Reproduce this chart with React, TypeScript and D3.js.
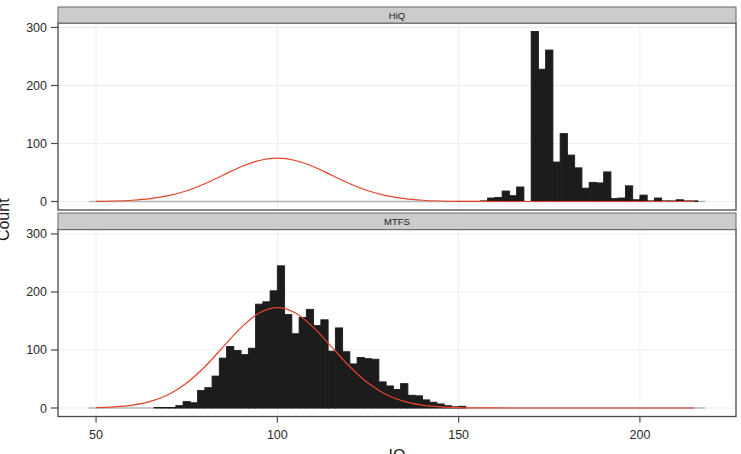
import React from 'react';
import * as d3 from 'd3';

const W = 741;
const H = 454;

const xTicks = [50, 100, 150, 200];
const yTicks = [0, 100, 200, 300];
const panelNames = ['HiQ', 'MTFS'];
const xLabel = 'IQ';
const yLabel = 'Count';

const binWidth = 2;
const dataRange = [48, 218];

const hiqBinStarts = [156, 158, 160, 162, 164, 166, 170, 172, 174, 176, 178, 180, 182, 184, 186, 188, 190, 192, 194, 196, 198, 200, 202, 204, 206, 208, 210, 212, 214];
const hiqCounts = [1, 6, 7, 18, 10, 25, 293, 228, 261, 68, 117, 80, 58, 23, 33, 32, 51, 5, 6, 27, 3, 11, 1, 6, 1, 1, 3, 1, 1];

const mtfsBinStarts = [66, 68, 70, 72, 74, 76, 78, 80, 82, 84, 86, 88, 90, 92, 94, 96, 98, 100, 102, 104, 106, 108, 110, 112, 114, 116, 118, 120, 122, 124, 126, 128, 130, 132, 134, 136, 138, 140, 142, 144, 146, 148, 150];
const mtfsCounts = [1, 1, 1, 4, 11, 9, 30, 35, 55, 86, 106, 99, 92, 103, 179, 183, 202, 245, 161, 128, 156, 170, 142, 152, 98, 138, 97, 76, 87, 85, 84, 45, 38, 32, 42, 22, 21, 14, 10, 7, 4, 2, 3];

const curveX = [50, 55, 60, 65, 70, 75, 80, 85, 90, 95, 100, 105, 110, 115, 120, 125, 130, 135, 140, 145, 150, 155, 160, 165, 170, 175, 180, 185, 190, 195, 200, 205, 210, 215];
const hiqCurve = [0.29, 0.83, 2.13, 4.9, 10.1, 18.6, 30.7, 45.3, 59.8, 70.6, 74.6, 70.6, 59.8, 45.3, 30.7, 18.6, 10.1, 4.9, 2.13, 0.83, 0.29, 0.09, 0.03, 0, 0, 0, 0, 0, 0, 0, 0, 0, 0, 0];
const mtfsCurve = [0.67, 1.92, 4.95, 11.4, 23.4, 43.1, 71.1, 105, 138.6, 163.7, 173, 163.7, 138.6, 105, 71.1, 43.1, 23.4, 11.4, 4.95, 1.92, 0.67, 0.21, 0.06, 0, 0, 0, 0, 0, 0, 0, 0, 0, 0, 0];

const FONT = '"Liberation Sans", Arial, Helvetica, sans-serif';

const LEFT = 58;
const RIGHT = 736;
const panels = [
  { name: panelNames[0], stripTop: 7, top: 23, bottom: 210, starts: hiqBinStarts, counts: hiqCounts, curve: hiqCurve },
  { name: panelNames[1], stripTop: 213, top: 229.5, bottom: 416.5, starts: mtfsBinStarts, counts: mtfsCounts, curve: mtfsCurve },
];

export default function App() {
  const allCounts = [...hiqCounts, ...mtfsCounts];
  const yMax = d3.max(allCounts) as number;
  const yPad = yMax * 0.05;
  const xPad = (dataRange[1] - dataRange[0]) * 0.05;
  const x = d3.scaleLinear().domain([dataRange[0] - xPad, dataRange[1] + xPad]).range([LEFT, RIGHT]);

  return (
    <svg width={W} height={H} style={{ position: 'absolute', left: 0, top: 0, background: '#fff' }} fontFamily={FONT}>
      <rect x={0} y={0} width={W} height={H} fill="#fff" />
      {panels.map((p, pi) => {
        const y = d3.scaleLinear().domain([-yPad, yMax + yPad]).range([p.bottom, p.top]);
        const line = d3
          .line<number>()
          .x((_, i) => x(curveX[i]))
          .y((d) => y(d))
          .curve(d3.curveCatmullRom);
        return (
          <g key={pi}>
            <rect x={LEFT} y={p.top} width={RIGHT - LEFT} height={p.bottom - p.top} fill="#fff" />
            {xTicks.map((t) => (
              <line key={'gx' + t} x1={x(t)} x2={x(t)} y1={p.top} y2={p.bottom} stroke="#efefef" strokeWidth={1} />
            ))}
            {yTicks.map((t) => (
              <line key={'gy' + t} x1={LEFT} x2={RIGHT} y1={y(t)} y2={y(t)} stroke="#efefef" strokeWidth={1} />
            ))}
            <line x1={x(dataRange[0])} x2={x(dataRange[1])} y1={y(0)} y2={y(0)} stroke="#b4b4b4" strokeWidth={1.6} />
            {p.starts.map((s, i) => (
              <rect
                key={'b' + i}
                x={x(s)}
                width={x(s + binWidth) - x(s)}
                y={y(p.counts[i])}
                height={y(0) - y(p.counts[i])}
                fill="#1c1c1c"
                stroke="#1c1c1c"
                strokeWidth={0.9}
              />
            ))}
            <path d={line(p.curve) || ''} fill="none" stroke="#e5432b" strokeWidth={1.2} />
            <rect x={LEFT} y={p.top} width={RIGHT - LEFT} height={p.bottom - p.top} fill="none" stroke="#4a4a4a" strokeWidth={1.3} />
            <rect x={LEFT} y={p.stripTop} width={RIGHT - LEFT} height={p.top - p.stripTop} fill="#cccccc" stroke="#6a6a6a" strokeWidth={1} />
            <text x={(LEFT + RIGHT) / 2} y={p.top - 4.2} textAnchor="middle" fontSize={9.5} fill="#1a1a1a">
              {p.name}
            </text>
            {yTicks.map((t) => (
              <g key={'yt' + t}>
                <line x1={LEFT - 7} x2={LEFT} y1={y(t)} y2={y(t)} stroke="#4a4a4a" strokeWidth={1.2} />
                <text x={LEFT - 11} y={y(t)} dy="0.36em" textAnchor="end" fontSize={12.5} fill="#2b2b2b">
                  {t}
                </text>
              </g>
            ))}
            {pi === panels.length - 1 &&
              xTicks.map((t) => (
                <g key={'xt' + t}>
                  <line x1={x(t)} x2={x(t)} y1={p.bottom} y2={p.bottom + 6} stroke="#4a4a4a" strokeWidth={1.2} />
                  <text x={x(t)} y={p.bottom + 22.5} textAnchor="middle" fontSize={12.5} fill="#2b2b2b">
                    {t}
                  </text>
                </g>
              ))}
          </g>
        );
      })}
      <text x={(LEFT + RIGHT) / 2} y={461} textAnchor="middle" fontSize={16} fill="#1a1a1a">
        {xLabel}
      </text>
      <text transform={`translate(8.5,${(panels[0].top + panels[1].bottom) / 2}) rotate(-90)`} textAnchor="middle" fontSize={16} fill="#1a1a1a">
        {yLabel}
      </text>
    </svg>
  );
}
